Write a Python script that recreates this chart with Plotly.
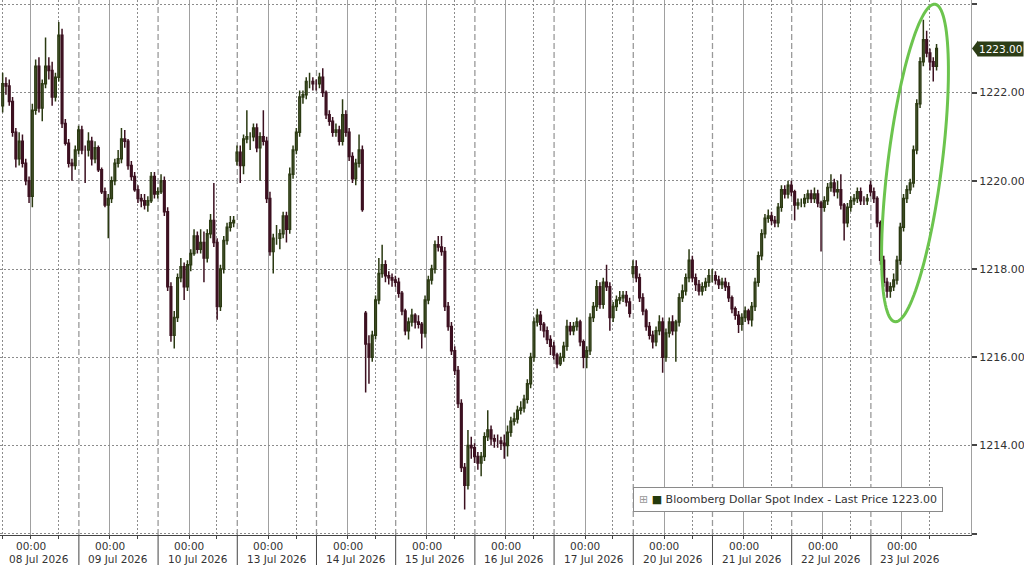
import numpy as np
import plotly.graph_objects as go

# hourly bars, hour index counted from 08 Jul 00:00 (weekends removed)
hours = list(range(-9, 275))

day_labels = ["08 Jul 2026", "09 Jul 2026", "10 Jul 2026", "13 Jul 2026",
              "14 Jul 2026", "15 Jul 2026", "16 Jul 2026", "17 Jul 2026",
              "20 Jul 2026", "21 Jul 2026", "22 Jul 2026", "23 Jul 2026"]
y_ticks = [1212, 1214, 1216, 1218, 1220, 1222, 1224]
last_price = 1223.00

opens = [
    1221.7, 1222.2, 1222.15, 1221.8, 1221.1, 1220.5, 1220.9, 1220.4, 1220.0,
    1219.65, 1221.6, 1222.6, 1221.65, 1222.2, 1222.6, 1222.5, 1221.9, 1222.35, 1223.3, 1221.3, 1220.85, 1220.4, 1220.35, 1220.7, 1221.15, 1220.7, 1220.7, 1220.9, 1220.5, 1220.75, 1220.25, 1219.75, 1219.45,
    1219.6, 1220.0, 1220.4, 1220.5, 1220.95, 1220.9, 1220.35, 1220.1, 1219.8, 1219.6, 1219.55, 1219.45, 1219.55, 1220.1, 1219.7, 1219.75, 1220.0, 1219.3, 1217.6, 1216.5, 1216.9, 1217.8, 1218.05, 1217.6,
    1218.1, 1218.35, 1218.75, 1218.45, 1218.6, 1218.25, 1218.8, 1219.1, 1218.6, 1217.15, 1218.0, 1218.65, 1218.95, 1219.05, 1220.45, 1220.65, 1220.35, 1220.95, 1221.0, 1221.0, 1221.2, 1220.75, 1221.0, 1220.9,
    1219.6, 1218.4, 1218.7, 1218.7, 1218.8, 1219.2, 1218.9, 1220.15, 1220.7, 1221.1, 1221.9, 1221.95, 1222.25, 1222.25, 1222.2, 1222.2, 1222.35, 1222.0, 1221.5, 1221.35, 1221.1, 1221.15, 1220.9, 1221.5,
    1221.1, 1220.55, 1220.05, 1220.4, 1220.7, 1217.0, 1216.3, 1216.0, 1216.5, 1217.3, 1217.9, 1218.1, 1217.85, 1217.8, 1217.75, 1217.7, 1217.45, 1217.05, 1216.6, 1216.8, 1216.95, 1216.8, 1216.75, 1216.55,
    1217.3, 1217.75, 1218.0, 1218.55, 1218.5, 1218.4, 1217.15, 1216.7, 1216.15, 1215.7, 1214.95, 1213.5, 1213.1, 1214.0, 1213.95, 1213.75, 1213.6, 1213.75, 1214.2, 1214.35, 1214.15, 1214.1, 1214.1, 1214.05,
    1214.0, 1214.3, 1214.55, 1214.6, 1214.8, 1214.85, 1215.05, 1215.4, 1216.0, 1216.8, 1216.95, 1216.75, 1216.6, 1216.4, 1216.25, 1216.05, 1215.85, 1216.0, 1216.25, 1216.7, 1216.6, 1216.7, 1216.8, 1216.35,
    1216.0, 1216.15, 1216.9, 1217.15, 1217.6, 1217.2, 1217.7, 1217.6, 1216.9, 1217.15, 1217.3, 1217.35, 1217.4, 1217.25, 1217.9, 1218.05, 1217.8, 1217.35, 1217.05, 1216.7, 1216.5, 1216.35, 1216.6, 1216.8,
    1216.0, 1216.55, 1216.8, 1216.6, 1216.8, 1217.35, 1217.5, 1217.8, 1218.2, 1217.8, 1217.65, 1217.5, 1217.6, 1217.7, 1217.85, 1217.85, 1217.75, 1217.65, 1217.7, 1217.6, 1217.35, 1217.1, 1216.95, 1216.75,
    1216.9, 1217.05, 1216.85, 1217.15, 1217.7, 1218.3, 1218.8, 1219.15, 1219.2, 1219.1, 1219.05, 1219.4, 1219.8, 1219.7, 1219.9, 1219.75, 1219.45, 1219.5, 1219.5, 1219.6, 1219.7, 1219.6, 1219.7, 1219.5,
    1219.4, 1219.55, 1219.85, 1219.95, 1219.75, 1219.8, 1219.45, 1219.05, 1219.4, 1219.55, 1219.6, 1219.75, 1219.55, 1219.55, 1219.9, 1219.75, 1219.6, 1219.05, 1218.2, 1217.7, 1217.5, 1217.6, 1217.75, 1218.2,
    1218.95, 1219.6, 1219.8, 1219.95, 1220.7, 1221.75, 1222.7, 1223.2, 1222.9, 1222.7, 1222.6,
]

highs = [
    1222.45, 1222.35, 1222.3, 1221.9, 1221.2, 1221.1, 1221.05, 1220.5, 1220.1,
    1221.75, 1222.75, 1222.8, 1222.3, 1223.25, 1222.8, 1222.7, 1222.45, 1223.6, 1223.45, 1221.4, 1220.95, 1220.5, 1220.8, 1221.25, 1221.25, 1220.8, 1221.1, 1221.0, 1220.9, 1220.8, 1220.3, 1219.85, 1219.7,
    1220.1, 1220.5, 1220.7, 1221.2, 1221.15, 1220.95, 1220.45, 1220.2, 1219.9, 1219.7, 1219.7, 1219.65, 1220.2, 1220.2, 1219.85, 1220.15, 1220.1, 1219.4, 1217.7, 1217.05, 1217.9, 1218.25, 1218.15, 1218.2,
    1218.45, 1218.9, 1218.85, 1218.9, 1218.85, 1218.9, 1219.25, 1219.95, 1218.7, 1218.1, 1218.75, 1219.05, 1219.2, 1219.2, 1220.8, 1220.8, 1221.05, 1221.6, 1221.1, 1221.3, 1221.3, 1221.1, 1221.6, 1221.0,
    1219.75, 1218.8, 1219.0, 1218.9, 1219.3, 1219.3, 1220.3, 1220.8, 1221.2, 1222.05, 1222.05, 1222.35, 1222.45, 1222.35, 1222.3, 1222.45, 1222.55, 1222.05, 1221.6, 1221.45, 1221.3, 1221.25, 1221.85, 1221.6,
    1221.2, 1220.65, 1220.5, 1221.05, 1220.8, 1217.05, 1216.5, 1216.6, 1217.4, 1218.25, 1218.55, 1218.2, 1217.95, 1217.9, 1217.85, 1217.8, 1217.5, 1217.1, 1216.9, 1217.1, 1217.0, 1216.95, 1216.8, 1217.4,
    1217.85, 1218.1, 1218.65, 1218.75, 1218.75, 1218.5, 1217.25, 1216.8, 1216.25, 1215.8, 1215.05, 1213.6, 1214.35, 1214.2, 1214.05, 1213.85, 1213.85, 1214.3, 1214.8, 1214.45, 1214.25, 1214.25, 1214.2, 1214.25,
    1214.45, 1214.65, 1214.75, 1214.9, 1215.0, 1215.15, 1215.5, 1216.1, 1216.9, 1217.1, 1217.05, 1216.8, 1216.7, 1216.5, 1216.35, 1216.1, 1216.1, 1216.35, 1216.85, 1216.8, 1216.8, 1216.9, 1216.85, 1216.4,
    1216.25, 1217.0, 1217.25, 1217.75, 1217.7, 1217.8, 1218.1, 1217.7, 1217.25, 1217.4, 1217.5, 1217.5, 1217.5, 1217.35, 1218.2, 1218.2, 1217.9, 1217.45, 1217.1, 1216.8, 1216.6, 1216.7, 1216.95, 1216.9,
    1216.65, 1216.9, 1216.95, 1216.85, 1217.45, 1217.65, 1217.9, 1218.45, 1218.3, 1217.9, 1217.75, 1217.7, 1217.8, 1218.0, 1218.0, 1217.95, 1217.85, 1217.8, 1217.8, 1217.7, 1217.4, 1217.15, 1217.05, 1217.0,
    1217.15, 1217.1, 1217.25, 1217.8, 1218.4, 1218.9, 1219.25, 1219.35, 1219.3, 1219.2, 1219.5, 1219.9, 1219.9, 1220.0, 1220.0, 1219.8, 1219.6, 1219.6, 1219.7, 1219.8, 1219.8, 1219.85, 1219.8, 1219.55,
    1219.65, 1219.95, 1220.15, 1220.05, 1220.0, 1220.15, 1219.5, 1219.5, 1219.65, 1219.7, 1219.85, 1219.85, 1219.65, 1219.7, 1220.0, 1219.85, 1219.65, 1219.1, 1218.3, 1217.8, 1217.7, 1217.9, 1218.3, 1219.05,
    1219.7, 1219.9, 1220.05, 1220.8, 1221.85, 1222.8, 1223.65, 1223.4, 1223.0, 1222.8, 1223.1,
]

lows = [
    1221.55, 1221.95, 1221.7, 1221.0, 1220.3, 1220.35, 1220.3, 1219.9, 1219.5,
    1219.4, 1221.5, 1221.55, 1221.35, 1222.1, 1222.3, 1221.7, 1221.8, 1222.25, 1221.2, 1220.8, 1220.3, 1220.0, 1220.25, 1220.6, 1220.6, 1219.95, 1220.55, 1220.35, 1220.4, 1220.2, 1219.7, 1219.4, 1218.7,
    1219.5, 1219.9, 1220.3, 1220.4, 1220.75, 1220.25, 1220.0, 1219.75, 1219.5, 1219.4, 1219.35, 1219.3, 1219.5, 1219.6, 1219.6, 1219.7, 1219.2, 1217.5, 1216.35, 1216.2, 1216.8, 1217.7, 1217.3, 1217.5,
    1217.95, 1218.3, 1218.35, 1218.35, 1217.7, 1218.15, 1218.7, 1218.5, 1216.85, 1217.05, 1217.9, 1218.55, 1218.85, 1218.95, 1220.35, 1219.95, 1220.15, 1220.85, 1220.7, 1220.9, 1220.65, 1220.0, 1220.8, 1219.5,
    1218.3, 1217.9, 1218.55, 1218.45, 1218.7, 1218.6, 1218.8, 1220.05, 1220.6, 1221.0, 1221.75, 1221.85, 1222.1, 1222.05, 1222.05, 1222.1, 1221.9, 1221.4, 1221.25, 1221.0, 1221.0, 1220.8, 1220.8, 1221.0,
    1220.45, 1219.95, 1219.9, 1220.3, 1219.3, 1215.2, 1215.4, 1215.9, 1216.4, 1217.2, 1217.8, 1217.7, 1217.65, 1217.6, 1217.6, 1217.35, 1216.95, 1216.5, 1216.4, 1216.7, 1216.65, 1216.65, 1216.2, 1216.45,
    1217.2, 1217.65, 1217.9, 1218.4, 1218.3, 1217.05, 1216.6, 1216.05, 1215.6, 1214.85, 1213.4, 1212.55, 1213.0, 1213.7, 1213.6, 1213.45, 1213.3, 1213.65, 1214.1, 1214.0, 1213.95, 1213.95, 1213.9, 1213.7,
    1213.75, 1214.2, 1214.45, 1214.5, 1214.7, 1214.75, 1214.95, 1215.3, 1215.9, 1216.7, 1216.6, 1216.45, 1216.3, 1216.05, 1215.95, 1215.75, 1215.8, 1215.9, 1216.15, 1216.5, 1216.5, 1216.6, 1216.25, 1215.75,
    1215.75, 1216.05, 1216.8, 1217.05, 1217.1, 1217.1, 1217.5, 1216.6, 1216.8, 1217.05, 1217.2, 1217.25, 1217.15, 1216.9, 1217.8, 1217.7, 1217.25, 1216.95, 1216.6, 1216.4, 1216.2, 1216.25, 1216.5, 1215.65,
    1215.9, 1216.45, 1216.5, 1215.9, 1216.7, 1217.25, 1217.4, 1217.7, 1217.7, 1217.5, 1217.4, 1217.4, 1217.5, 1217.6, 1217.7, 1217.65, 1217.55, 1217.55, 1217.5, 1217.25, 1217.0, 1216.85, 1216.55, 1216.6,
    1216.8, 1216.75, 1216.7, 1217.05, 1217.6, 1218.2, 1218.7, 1219.05, 1219.0, 1218.95, 1218.95, 1219.3, 1219.6, 1219.6, 1219.65, 1219.1, 1219.35, 1219.4, 1219.4, 1219.5, 1219.5, 1219.5, 1219.4, 1218.4,
    1219.3, 1219.45, 1219.75, 1219.65, 1219.6, 1219.35, 1218.65, 1218.95, 1219.3, 1219.45, 1219.5, 1219.45, 1219.45, 1219.45, 1219.65, 1219.5, 1218.95, 1218.1, 1217.6, 1217.35, 1217.35, 1217.5, 1217.65, 1218.1,
    1218.85, 1219.5, 1219.7, 1219.85, 1220.6, 1221.65, 1222.6, 1222.8, 1222.5, 1222.25, 1222.5,
]

closes = [
    1222.2, 1222.15, 1221.8, 1221.1, 1220.5, 1220.9, 1220.4, 1220.0, 1219.65,
    1221.6, 1222.6, 1221.65, 1222.2, 1222.6, 1222.5, 1221.9, 1222.35, 1223.3, 1221.3, 1220.85, 1220.4, 1220.35, 1220.7, 1221.15, 1220.7, 1220.7, 1220.9, 1220.5, 1220.75, 1220.25, 1219.75, 1219.45, 1219.6,
    1220.0, 1220.4, 1220.5, 1220.95, 1220.9, 1220.35, 1220.1, 1219.8, 1219.6, 1219.55, 1219.45, 1219.55, 1220.1, 1219.7, 1219.75, 1220.0, 1219.3, 1217.6, 1216.5, 1216.9, 1217.8, 1218.05, 1217.6, 1218.1,
    1218.35, 1218.75, 1218.45, 1218.6, 1218.25, 1218.8, 1219.1, 1218.6, 1217.15, 1218.0, 1218.65, 1218.95, 1219.05, 1219.1, 1220.65, 1220.35, 1220.95, 1221.0, 1221.0, 1221.2, 1220.75, 1221.0, 1220.9, 1219.6,
    1218.4, 1218.7, 1218.7, 1218.8, 1219.2, 1218.9, 1220.15, 1220.7, 1221.1, 1221.9, 1221.95, 1222.25, 1222.25, 1222.2, 1222.2, 1222.35, 1222.0, 1221.5, 1221.35, 1221.1, 1221.15, 1220.9, 1221.5, 1221.1,
    1220.55, 1220.05, 1220.4, 1220.7, 1219.35, 1216.3, 1216.0, 1216.5, 1217.3, 1217.9, 1218.1, 1217.85, 1217.8, 1217.75, 1217.7, 1217.45, 1217.05, 1216.6, 1216.8, 1216.95, 1216.8, 1216.75, 1216.55, 1217.3,
    1217.75, 1218.0, 1218.55, 1218.5, 1218.4, 1217.15, 1216.7, 1216.15, 1215.7, 1214.95, 1213.5, 1213.1, 1214.0, 1213.95, 1213.75, 1213.6, 1213.75, 1214.2, 1214.35, 1214.15, 1214.1, 1214.1, 1214.05, 1214.0,
    1214.3, 1214.55, 1214.6, 1214.8, 1214.85, 1215.05, 1215.4, 1216.0, 1216.8, 1216.95, 1216.75, 1216.6, 1216.4, 1216.25, 1216.05, 1215.85, 1216.0, 1216.25, 1216.7, 1216.6, 1216.7, 1216.8, 1216.35, 1216.0,
    1216.15, 1216.9, 1217.15, 1217.6, 1217.2, 1217.7, 1217.6, 1216.9, 1217.15, 1217.3, 1217.35, 1217.4, 1217.25, 1217.0, 1218.05, 1217.8, 1217.35, 1217.05, 1216.7, 1216.5, 1216.35, 1216.6, 1216.8, 1216.0,
    1216.55, 1216.8, 1216.6, 1216.8, 1217.35, 1217.5, 1217.8, 1218.2, 1217.8, 1217.65, 1217.5, 1217.6, 1217.7, 1217.85, 1217.85, 1217.75, 1217.65, 1217.7, 1217.6, 1217.35, 1217.1, 1216.95, 1216.75, 1216.9,
    1217.05, 1216.85, 1217.15, 1217.7, 1218.3, 1218.8, 1219.15, 1219.2, 1219.1, 1219.05, 1219.4, 1219.8, 1219.7, 1219.9, 1219.75, 1219.45, 1219.5, 1219.5, 1219.6, 1219.7, 1219.6, 1219.7, 1219.5, 1219.4,
    1219.55, 1219.85, 1219.95, 1219.75, 1219.8, 1219.45, 1219.05, 1219.4, 1219.55, 1219.6, 1219.75, 1219.55, 1219.55, 1219.6, 1219.75, 1219.6, 1219.05, 1218.2, 1217.7, 1217.5, 1217.6, 1217.75, 1218.2, 1218.95,
    1219.6, 1219.8, 1219.95, 1220.7, 1221.75, 1222.7, 1223.2, 1222.9, 1222.7, 1222.6, 1223.0,
]

# geometry of the 1024x565 canvas
W, H = 1024, 565
plot_w, plot_h = 971, 535
px_per_h = 3.3
x0_px = 30.7  # pixel of 08 Jul 00:00
x_range = [-x0_px / px_per_h, (plot_w - x0_px) / px_per_h]
y_range = [1211.97, 1224.1]
px_per_unit = plot_h / (y_range[1] - y_range[0])
SESSION_BREAK = 14.6  # hour of the dashed session separator

GRID = "#8c8c8c"
TXT = "#333"

fig = go.Figure()

fig.add_trace(go.Candlestick(
    x=[h + 0.5 for h in hours],
    open=opens, high=highs, low=lows, close=closes,
    increasing=dict(line=dict(color="#2b3a12", width=1.5), fillcolor="#b9bcaa"),
    decreasing=dict(line=dict(color="#3c1020", width=1.5), fillcolor="#4a1628"),
    whiskerwidth=0,
    showlegend=False,
    hoverinfo="skip",
))

midnights = [24 * d for d in range(len(day_labels))]

shapes = []
# session separators (dashed) and the divider lines between the date labels
for d in range(len(day_labels) - 1):
    xs = 24 * d + SESSION_BREAK
    shapes.append(dict(type="line", xref="x", yref="paper", x0=xs, x1=xs, y0=0, y1=1,
                       line=dict(color="#9a9a9a", width=1.3, dash="6px,3px"), layer="below"))
    shapes.append(dict(type="line", xref="x", yref="paper", x0=xs, x1=xs, y0=0, y1=-0.06,
                       line=dict(color="#444", width=1)))

# green ellipse around the last leg (drawn in pixel space, converted to axes)
cx, cy, a, b = 915, 163, 160, 27
u = np.array([0.125, -0.992])
v = np.array([0.992, 0.125])
t = np.linspace(0, 2 * np.pi, 120)
ex = cx + a * np.cos(t) * u[0] + b * np.sin(t) * v[0]
ey = cy + a * np.cos(t) * u[1] + b * np.sin(t) * v[1]
ex_d = (ex - x0_px) / px_per_h
ey_d = y_range[1] - ey / px_per_unit
path = "M " + " L ".join(f"{xx:.3f},{yy:.3f}" for xx, yy in zip(ex_d, ey_d)) + " Z"
shapes.append(dict(type="path", xref="x", yref="y", path=path,
                   line=dict(color="#6cc44e", width=3)))

# arrow of the last price tag
shapes.append(dict(type="path", xref="paper", yref="y", xsizemode="pixel", ysizemode="pixel",
                   xanchor=1, yanchor=last_price, path="M 1,0 L 7,8 L 7,-8 Z",
                   fillcolor="#2c3d16", line=dict(width=0)))

annotations = [
    dict(xref="paper", yref="y", x=1, y=last_price, xanchor="left", yanchor="middle",
         xshift=6, text=f"{last_price:.2f}", showarrow=False,
         bgcolor="#2c3d16", font=dict(color="white", size=10.5), borderpad=1),
    dict(xref="paper", yref="paper", x=788 / plot_w, y=1 - 499 / plot_h,
         xanchor="center", yanchor="middle", showarrow=False,
         text='<span style="color:#999">⊞</span> <span style="color:#243a0c">■</span> '
              f'Bloomberg Dollar Spot Index - Last Price {last_price:.2f}',
         bgcolor="white", bordercolor="#8a8a8a", borderwidth=1, borderpad=5,
         font=dict(size=11, color=TXT)),
]
# two-row time axis: "00:00" under each midnight, the date centred between separators
for d, lbl in enumerate(day_labels):
    annotations.append(dict(xref="x", yref="paper", x=midnights[d],
                            y=-(546 - plot_h) / plot_h, xanchor="center", yanchor="middle",
                            text="00:00", showarrow=False, font=dict(size=10.5, color=TXT)))
    annotations.append(dict(xref="x", yref="paper", x=24 * d + SESSION_BREAK - 12,
                            y=-(558.5 - plot_h) / plot_h, xanchor="center", yanchor="middle",
                            text=lbl, showarrow=False, font=dict(size=10.5, color=TXT)))

fig.update_layout(
    width=W, height=H,
    margin=dict(l=0, r=W - plot_w, t=0, b=H - plot_h),
    paper_bgcolor="white", plot_bgcolor="white",
    font=dict(family="DejaVu Sans", size=11, color=TXT),
    shapes=shapes,
    annotations=annotations,
    xaxis=dict(
        range=x_range, rangeslider=dict(visible=False),
        tickmode="array", tickvals=midnights, showticklabels=False,
        showgrid=True, gridcolor="#a0a0a0", gridwidth=1,
        ticks="outside", ticklen=3, tickcolor="#444",
        showline=True, linecolor="#444", linewidth=1,
        zeroline=False,
        minor=dict(tickmode="array", tickvals=[-8.5] + [24 * d + 8.4 for d in range(12)],
                   showgrid=True, gridcolor=GRID, griddash="2px,2px", gridwidth=1,
                   ticks="outside", ticklen=3, tickcolor="#444"),
    ),
    yaxis=dict(
        range=y_range, side="right",
        tickmode="array", tickvals=y_ticks,
        ticktext=["" if v_ == 1212 else f"{v_:.2f}" for v_ in y_ticks],
        showgrid=True, gridcolor=GRID, griddash="2px,2px", gridwidth=1,
        ticks="outside", ticklen=5, tickwidth=2, tickcolor="#444",
        showline=True, linecolor="#a0a0a0", linewidth=1,
        tickfont=dict(size=11, color=TXT),
        zeroline=False,
    ),
)

# the page body has a default 8px margin; drop it so the chart sits at 0,0
fig.write_html("out.html", config={"displayModeBar": False},
               post_script="document.body.style.margin='0';document.body.style.overflow='hidden';")
